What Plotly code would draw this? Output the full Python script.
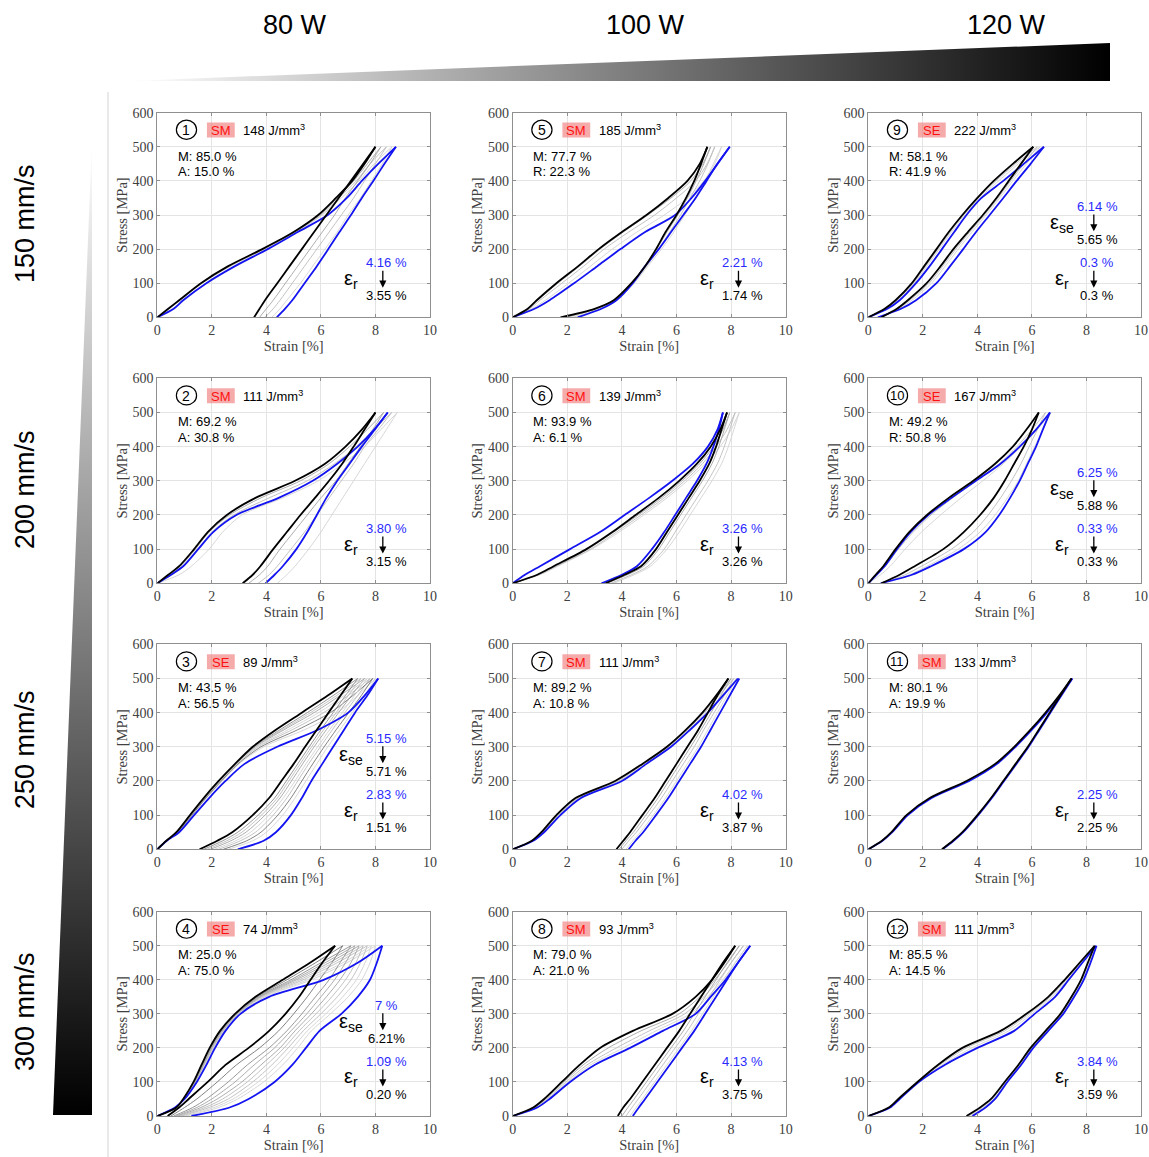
import plotly.graph_objects as go

W, H = 1149, 1157

# ---------------- data ----------------
STRESS = [0, 25, 50, 100, 150, 200, 250, 300, 350, 400, 450, 500]  # MPa levels

POWER_LABELS = ["80 W", "100 W", "120 W"]
SPEED_LABELS = ["150 mm/s", "200 mm/s", "250 mm/s", "300 mm/s"]

PANEL_TYPE = ["SM", "SM", "SE", "SE", "SM", "SM", "SM", "SM", "SE", "SE", "SM", "SM"]
ENERGY = [148, 111, 89, 74, 185, 139, 111, 93, 222, 167, 133, 111]
PHASE_1 = ["M: 85.0 %", "M: 69.2 %", "M: 43.5 %", "M: 25.0 %", "M: 77.7 %", "M: 93.9 %",
           "M: 89.2 %", "M: 79.0 %", "M: 58.1 %", "M: 49.2 %", "M: 80.1 %", "M: 85.5 %"]
PHASE_2 = ["A: 15.0 %", "A: 30.8 %", "A: 56.5 %", "A: 75.0 %", "R: 22.3 %", "A: 6.1 %",
           "A: 10.8 %", "A: 21.0 %", "R: 41.9 %", "R: 50.8 %", "A: 19.9 %", "A: 14.5 %"]
EPS_R_FIRST = ["4.16 %", "3.80 %", "2.83 %", "1.09 %", "2.21 %", "3.26 %",
               "4.02 %", "4.13 %", "0.3 %", "0.33 %", "2.25 %", "3.84 %"]
EPS_R_LAST = ["3.55 %", "3.15 %", "1.51 %", "0.20 %", "1.74 %", "3.26 %",
              "3.87 %", "3.75 %", "0.3 %", "0.33 %", "2.25 %", "3.59 %"]
EPS_SE_FIRST = {3: "5.15 %", 4: "7 %", 9: "6.14 %", 10: "6.25 %"}
EPS_SE_LAST = {3: "5.71 %", 4: "6.21%", 9: "5.65 %", 10: "5.88 %"}

# strain [%] at each STRESS level; loading and unloading branches
P1_BLUE_LOAD = [0, 0.6, 0.95, 1.8, 2.85, 4.05, 5.15, 6.25, 6.95, 7.5, 8.1, 8.75]
P1_BLUE_UNLOAD = [4.38, 4.68, 4.95, 5.4, 5.85, 6.27, 6.68, 7.1, 7.5, 7.92, 8.33, 8.75]
P1_BLACK_LOAD = [0, 0.4, 0.8, 1.6, 2.6, 3.85, 5.0, 5.9, 6.55, 7.15, 7.6, 8.0]
P1_BLACK_UNLOAD = [3.55, 3.75, 3.95, 4.4, 4.85, 5.3, 5.75, 6.2, 6.65, 7.1, 7.55, 8.0]
P1_GRAY_LOAD = [[0, 0.45, 0.85, 1.65, 2.7, 3.95, 5.1, 6.05, 6.75, 7.4, 7.95, 8.6],
                [0, 0.42, 0.83, 1.62, 2.65, 3.9, 5.05, 6.0, 6.65, 7.3, 7.8, 8.4],
                [0, 0.41, 0.81, 1.6, 2.62, 3.87, 5.02, 5.95, 6.6, 7.2, 7.7, 8.2]]
P1_GRAY_UNLOAD = [[4.2, 4.5, 4.75, 5.25, 5.7, 6.15, 6.6, 7.0, 7.45, 7.85, 8.25, 8.6],
                  [3.95, 4.25, 4.5, 4.95, 5.4, 5.85, 6.3, 6.75, 7.2, 7.6, 8.0, 8.4],
                  [3.75, 4.0, 4.25, 4.7, 5.15, 5.6, 6.05, 6.5, 6.9, 7.35, 7.8, 8.2]]

P2_BLUE_LOAD = [0, 0.5, 0.95, 1.5, 2.05, 2.9, 4.45, 5.7, 6.6, 7.35, 7.95, 8.45]
P2_BLUE_UNLOAD = [3.97, 4.3, 4.6, 5.1, 5.5, 5.85, 6.2, 6.6, 7.05, 7.5, 7.98, 8.45]
P2_BLACK_LOAD = [0, 0.4, 0.8, 1.35, 1.85, 2.55, 3.6, 5.05, 6.15, 6.9, 7.5, 8.0]
P2_BLACK_UNLOAD = [3.13, 3.5, 3.78, 4.25, 4.75, 5.25, 5.78, 6.3, 6.78, 7.2, 7.6, 8.0]
P2_GRAY_LOAD = [[0, 0.8, 1.25, 1.9, 2.4, 3.1, 4.6, 5.9, 6.8, 7.6, 8.2, 8.8],
                [0, 0.55, 0.95, 1.5, 2.0, 2.8, 4.1, 5.5, 6.5, 7.3, 7.95, 8.6],
                [0, 0.45, 0.85, 1.4, 1.9, 2.65, 3.8, 5.25, 6.3, 7.05, 7.7, 8.3]]
P2_GRAY_UNLOAD = [[4.4, 4.75, 5.05, 5.55, 6.0, 6.4, 6.8, 7.2, 7.6, 8.0, 8.4, 8.8],
                  [3.7, 4.1, 4.4, 4.9, 5.4, 5.85, 6.3, 6.75, 7.2, 7.6, 8.1, 8.6],
                  [3.35, 3.75, 4.05, 4.5, 5.0, 5.5, 6.0, 6.55, 7.0, 7.45, 7.9, 8.3]]

P3_BLUE_LOAD = [0, 0.35, 0.8, 1.35, 1.9, 2.5, 3.2, 4.4, 5.9, 7.0, 7.6, 8.1]
P3_BLUE_UNLOAD = [2.95, 3.9, 4.35, 4.9, 5.3, 5.65, 6.05, 6.45, 6.85, 7.25, 7.7, 8.1]
P3_BLACK_LOAD = [0, 0.33, 0.7, 1.2, 1.7, 2.25, 2.85, 3.5, 4.35, 5.3, 6.25, 7.15]
P3_BLACK_UNLOAD = [1.55, 2.2, 2.75, 3.5, 4.1, 4.55, 5.0, 5.42, 5.85, 6.28, 6.72, 7.15]
P3_GRAY_LOAD = [[0, 0.34, 0.75, 1.28, 1.8, 2.38, 3.0, 3.9, 5.4, 6.6, 7.35, 8.0],
                [0, 0.34, 0.73, 1.25, 1.76, 2.32, 2.92, 3.7, 4.95, 6.1, 7.0, 7.8],
                [0, 0.33, 0.72, 1.23, 1.73, 2.28, 2.88, 3.6, 4.65, 5.75, 6.7, 7.6],
                [0, 0.33, 0.71, 1.22, 1.72, 2.26, 2.86, 3.55, 4.5, 5.5, 6.45, 7.35],
                [0, 0.34, 0.74, 1.27, 1.78, 2.35, 2.96, 3.8, 5.15, 6.35, 7.17, 7.9],
                [0, 0.33, 0.72, 1.24, 1.74, 2.3, 2.9, 3.65, 4.8, 5.92, 6.85, 7.7],
                [0, 0.33, 0.71, 1.22, 1.72, 2.27, 2.87, 3.57, 4.58, 5.62, 6.58, 7.47]]
P3_GRAY_UNLOAD = [[2.6, 3.5, 4.0, 4.6, 5.05, 5.45, 5.85, 6.25, 6.7, 7.15, 7.6, 8.0],
                  [2.25, 3.05, 3.6, 4.25, 4.75, 5.15, 5.55, 5.98, 6.42, 6.88, 7.35, 7.8],
                  [1.95, 2.7, 3.25, 3.95, 4.5, 4.92, 5.33, 5.75, 6.2, 6.65, 7.12, 7.6],
                  [1.7, 2.4, 2.95, 3.7, 4.3, 4.73, 5.15, 5.57, 6.0, 6.45, 6.9, 7.35],
                  [2.42, 3.28, 3.8, 4.42, 4.9, 5.3, 5.7, 6.12, 6.56, 7.02, 7.48, 7.9],
                  [2.1, 2.88, 3.42, 4.1, 4.62, 5.05, 5.45, 5.88, 6.32, 6.78, 7.23, 7.7],
                  [1.82, 2.55, 3.1, 3.82, 4.4, 4.82, 5.24, 5.66, 6.1, 6.56, 7.0, 7.47]]

P4_BLUE_LOAD = [0, 0.65, 1.0, 1.45, 1.8, 2.12, 2.5, 3.05, 4.1, 6.1, 7.35, 8.25]
P4_BLUE_UNLOAD = [1.25, 2.65, 3.35, 4.3, 4.95, 5.45, 5.95, 6.75, 7.35, 7.8, 8.05, 8.25]
P4_BLACK_LOAD = [0, 0.7, 0.95, 1.33, 1.62, 1.92, 2.3, 2.85, 3.6, 4.6, 5.6, 6.52]
P4_BLACK_UNLOAD = [0.38, 0.8, 1.15, 1.85, 2.5, 3.35, 4.1, 4.7, 5.2, 5.62, 6.05, 6.52]
P4_GRAY_LOAD = [[0, 0.66, 0.98, 1.42, 1.75, 2.08, 2.45, 3.0, 3.95, 5.65, 6.95, 8.0],
                [0, 0.67, 0.97, 1.4, 1.72, 2.04, 2.42, 2.96, 3.85, 5.35, 6.6, 7.7],
                [0, 0.68, 0.96, 1.38, 1.69, 2.0, 2.38, 2.92, 3.78, 5.1, 6.3, 7.4],
                [0, 0.69, 0.95, 1.36, 1.66, 1.97, 2.35, 2.9, 3.7, 4.9, 6.0, 7.1],
                [0, 0.7, 0.95, 1.34, 1.64, 1.94, 2.32, 2.87, 3.65, 4.75, 5.8, 6.8],
                [0, 0.665, 0.975, 1.41, 1.73, 2.06, 2.44, 2.98, 3.9, 5.5, 6.8, 7.85],
                [0, 0.675, 0.965, 1.39, 1.7, 2.02, 2.4, 2.94, 3.8, 5.22, 6.45, 7.55],
                [0, 0.685, 0.955, 1.37, 1.68, 1.98, 2.36, 2.91, 3.74, 5.0, 6.15, 7.25]]
P4_GRAY_UNLOAD = [[1.05, 2.25, 2.95, 3.9, 4.6, 5.15, 5.65, 6.35, 7.0, 7.5, 7.8, 8.0],
                  [0.9, 1.9, 2.6, 3.5, 4.2, 4.8, 5.35, 6.0, 6.6, 7.1, 7.45, 7.7],
                  [0.75, 1.6, 2.2, 3.1, 3.8, 4.5, 5.05, 5.65, 6.2, 6.7, 7.1, 7.4],
                  [0.6, 1.3, 1.8, 2.6, 3.3, 4.1, 4.75, 5.3, 5.8, 6.3, 6.7, 7.1],
                  [0.5, 1.0, 1.45, 2.2, 2.9, 3.75, 4.45, 5.0, 5.5, 5.95, 6.4, 6.8],
                  [0.97, 2.08, 2.78, 3.7, 4.4, 4.97, 5.5, 6.18, 6.8, 7.3, 7.62, 7.85],
                  [0.82, 1.75, 2.4, 3.3, 4.0, 4.65, 5.2, 5.82, 6.4, 6.9, 7.28, 7.55],
                  [0.68, 1.45, 2.0, 2.85, 3.55, 4.3, 4.9, 5.48, 6.0, 6.5, 6.9, 7.25]]

P5_BLUE_LOAD = [0, 0.8, 1.35, 2.25, 3.1, 3.95, 4.85, 5.95, 6.55, 7.05, 7.5, 7.95]
P5_BLUE_UNLOAD = [2.38, 3.25, 3.8, 4.4, 4.85, 5.35, 5.8, 6.25, 6.7, 7.1, 7.5, 7.95]
P5_BLACK_LOAD = [0, 0.55, 0.88, 1.6, 2.4, 3.15, 4.0, 4.9, 5.7, 6.4, 6.85, 7.13]
P5_BLACK_UNLOAD = [1.75, 3.0, 3.7, 4.35, 4.85, 5.25, 5.6, 6.0, 6.35, 6.65, 6.9, 7.13]
P5_GRAY_LOAD = [[0, 0.7, 1.2, 2.05, 2.85, 3.65, 4.55, 5.55, 6.4, 7.0, 7.4, 7.65],
                [0, 0.62, 1.0, 1.8, 2.6, 3.35, 4.25, 5.2, 6.0, 6.7, 7.12, 7.4],
                [0, 0.57, 0.92, 1.65, 2.45, 3.2, 4.05, 4.95, 5.8, 6.52, 6.96, 7.25]]
P5_GRAY_UNLOAD = [[2.2, 3.2, 3.8, 4.45, 4.95, 5.45, 5.9, 6.3, 6.7, 7.05, 7.35, 7.65],
                  [2.0, 3.1, 3.75, 4.4, 4.9, 5.35, 5.75, 6.15, 6.5, 6.85, 7.15, 7.4],
                  [1.85, 3.05, 3.72, 4.37, 4.87, 5.28, 5.65, 6.05, 6.4, 6.72, 7.0, 7.25]]

P6_BLUE_LOAD = [0, 0.45, 1.0, 2.1, 3.2, 4.1, 5.0, 5.85, 6.6, 7.15, 7.5, 7.7]
P6_BLUE_UNLOAD = [3.25, 4.0, 4.55, 5.1, 5.55, 5.95, 6.35, 6.75, 7.1, 7.35, 7.55, 7.7]
P6_BLACK_LOAD = [0, 0.9, 1.5, 2.7, 3.65, 4.5, 5.35, 6.1, 6.75, 7.25, 7.6, 7.85]
P6_BLACK_UNLOAD = [3.4, 4.1, 4.7, 5.25, 5.65, 6.05, 6.45, 6.85, 7.2, 7.45, 7.65, 7.85]
P6_GRAY_LOAD = [[0, 1.0, 1.65, 2.9, 3.9, 4.8, 5.65, 6.4, 7.05, 7.6, 8.0, 8.3],
                [0, 0.95, 1.6, 2.85, 3.8, 4.7, 5.55, 6.3, 6.95, 7.45, 7.85, 8.15],
                [0, 0.92, 1.55, 2.75, 3.7, 4.6, 5.45, 6.2, 6.85, 7.35, 7.7, 7.95]]
P6_GRAY_UNLOAD = [[3.7, 4.45, 5.05, 5.65, 6.1, 6.5, 6.9, 7.3, 7.65, 7.9, 8.1, 8.3],
                  [3.6, 4.35, 4.95, 5.55, 5.95, 6.35, 6.75, 7.15, 7.5, 7.75, 7.95, 8.15],
                  [3.45, 4.2, 4.8, 5.35, 5.75, 6.15, 6.55, 6.95, 7.3, 7.55, 7.75, 7.95]]

P7_BLUE_LOAD = [0, 0.75, 1.15, 1.75, 2.5, 4.0, 4.9, 5.8, 6.5, 7.15, 7.7, 8.25]
P7_BLUE_UNLOAD = [4.25, 4.5, 4.78, 5.25, 5.7, 6.1, 6.5, 6.9, 7.25, 7.6, 7.95, 8.3]
P7_BLACK_LOAD = [0, 0.7, 1.05, 1.6, 2.3, 3.75, 4.75, 5.65, 6.35, 6.95, 7.45, 7.9]
P7_BLACK_UNLOAD = [3.8, 4.05, 4.3, 4.75, 5.2, 5.6, 6.0, 6.4, 6.8, 7.15, 7.5, 7.9]
P7_GRAY_LOAD = [[0, 0.74, 1.13, 1.72, 2.45, 3.95, 4.85, 5.75, 6.45, 7.1, 7.65, 8.2],
                [0, 0.72, 1.1, 1.68, 2.4, 3.88, 4.8, 5.7, 6.4, 7.03, 7.55, 8.1],
                [0, 0.71, 1.07, 1.64, 2.35, 3.8, 4.77, 5.67, 6.37, 6.98, 7.5, 8.0]]
P7_GRAY_UNLOAD = [[4.15, 4.4, 4.68, 5.15, 5.6, 6.0, 6.4, 6.8, 7.15, 7.5, 7.85, 8.2],
                  [4.0, 4.25, 4.53, 5.0, 5.45, 5.85, 6.25, 6.65, 7.0, 7.38, 7.75, 8.1],
                  [3.9, 4.15, 4.42, 4.88, 5.32, 5.72, 6.12, 6.52, 6.9, 7.27, 7.62, 8.0]]

P8_BLUE_LOAD = [0, 0.9, 1.35, 2.1, 3.0, 4.3, 5.5, 6.7, 7.25, 7.8, 8.25, 8.7]
P8_BLUE_UNLOAD = [4.4, 4.62, 4.85, 5.3, 5.75, 6.2, 6.65, 7.05, 7.45, 7.85, 8.25, 8.7]
P8_BLACK_LOAD = [0, 0.75, 1.15, 1.8, 2.45, 3.2, 4.4, 5.85, 6.7, 7.3, 7.75, 8.15]
P8_BLACK_UNLOAD = [3.85, 4.05, 4.3, 4.75, 5.2, 5.65, 6.1, 6.5, 6.9, 7.3, 7.7, 8.15]
P8_GRAY_LOAD = [[0, 0.87, 1.3, 2.02, 2.85, 4.05, 5.25, 6.5, 7.15, 7.7, 8.15, 8.6],
                [0, 0.83, 1.25, 1.95, 2.72, 3.8, 5.0, 6.3, 7.0, 7.55, 8.0, 8.45],
                [0, 0.79, 1.2, 1.87, 2.58, 3.5, 4.7, 6.1, 6.85, 7.4, 7.88, 8.3]]
P8_GRAY_UNLOAD = [[4.3, 4.52, 4.75, 5.2, 5.65, 6.1, 6.55, 6.95, 7.35, 7.75, 8.15, 8.6],
                  [4.15, 4.37, 4.6, 5.05, 5.5, 5.95, 6.4, 6.8, 7.2, 7.6, 8.0, 8.45],
                  [4.0, 4.22, 4.45, 4.9, 5.35, 5.8, 6.25, 6.65, 7.05, 7.45, 7.85, 8.3]]

P9_BLUE_LOAD = [0, 0.7, 1.15, 1.75, 2.25, 2.7, 3.15, 3.6, 4.15, 4.95, 5.7, 6.44]
P9_BLUE_UNLOAD = [0.35, 1.2, 1.75, 2.5, 3.0, 3.48, 3.95, 4.45, 4.95, 5.44, 5.95, 6.44]
P9_BLACK_LOAD = [0, 0.6, 1.0, 1.6, 2.05, 2.5, 2.95, 3.45, 4.0, 4.6, 5.3, 6.05]
P9_BLACK_UNLOAD = [0.48, 1.05, 1.45, 2.14, 2.65, 3.12, 3.65, 4.2, 4.7, 5.15, 5.6, 6.05]
P9_GRAY_LOAD = [[0, 0.65, 1.08, 1.68, 2.15, 2.6, 3.05, 3.52, 4.08, 4.78, 5.5, 6.3],
                [0, 0.62, 1.04, 1.64, 2.1, 2.55, 3.0, 3.48, 4.03, 4.68, 5.4, 6.2]]
P9_GRAY_UNLOAD = [[0.4, 1.12, 1.6, 2.32, 2.82, 3.3, 3.8, 4.32, 4.82, 5.3, 5.8, 6.3],
                  [0.44, 1.08, 1.52, 2.23, 2.73, 3.21, 3.72, 4.26, 4.76, 5.22, 5.7, 6.2]]

P10_BLUE_LOAD = [0, 0.3, 0.6, 1.05, 1.55, 2.2, 3.05, 3.95, 4.85, 5.55, 6.15, 6.66]
P10_BLUE_UNLOAD = [0.45, 1.6, 2.3, 3.5, 4.3, 4.8, 5.2, 5.55, 5.85, 6.15, 6.4, 6.66]
P10_BLACK_LOAD = [0, 0.27, 0.55, 1.0, 1.5, 2.15, 2.95, 3.85, 4.65, 5.3, 5.8, 6.25]
P10_BLACK_UNLOAD = [0.48, 1.15, 1.7, 2.75, 3.5, 4.1, 4.6, 5.0, 5.35, 5.7, 6.0, 6.25]
P10_GRAY_LOAD = [[0, 0.45, 0.8, 1.35, 1.95, 2.65, 3.4, 4.2, 4.95, 5.6, 6.2, 6.7],
                 [0, 0.3, 0.62, 1.1, 1.65, 2.3, 3.1, 3.95, 4.8, 5.45, 6.0, 6.5]]
P10_GRAY_UNLOAD = [[0.5, 1.5, 2.15, 3.3, 4.1, 4.65, 5.1, 5.5, 5.8, 6.1, 6.4, 6.7],
                   [0.5, 1.35, 1.95, 3.05, 3.85, 4.4, 4.85, 5.25, 5.6, 5.9, 6.2, 6.5]]

P11_BLUE_LOAD = [0, 0.52, 0.88, 1.45, 2.32, 3.7, 4.72, 5.4, 6.0, 6.55, 7.03, 7.48]
P11_BLUE_UNLOAD = [2.72, 3.13, 3.48, 4.03, 4.53, 4.98, 5.43, 5.88, 6.28, 6.68, 7.08, 7.48]
P11_BLACK_LOAD = [0, 0.5, 0.85, 1.4, 2.25, 3.6, 4.65, 5.35, 5.95, 6.5, 7.0, 7.45]
P11_BLACK_UNLOAD = [2.7, 3.1, 3.45, 4.0, 4.5, 4.95, 5.4, 5.85, 6.25, 6.65, 7.05, 7.45]
P11_GRAY_LOAD = [[0, 0.51, 0.86, 1.42, 2.28, 3.65, 4.68, 5.37, 5.97, 6.52, 7.01, 7.46]]
P11_GRAY_UNLOAD = [[2.71, 3.11, 3.46, 4.01, 4.51, 4.96, 5.41, 5.86, 6.26, 6.66, 7.06, 7.46]]

P12_BLUE_LOAD = [0, 0.8, 1.15, 1.85, 2.8, 4.0, 5.35, 6.1, 6.85, 7.35, 7.85, 8.35]
P12_BLUE_UNLOAD = [3.82, 4.3, 4.65, 5.1, 5.6, 6.05, 6.6, 7.15, 7.55, 7.9, 8.15, 8.37]
P12_BLACK_LOAD = [0, 0.75, 1.1, 1.8, 2.55, 3.45, 4.85, 5.8, 6.6, 7.2, 7.75, 8.3]
P12_BLACK_UNLOAD = [3.6, 4.1, 4.5, 5.0, 5.5, 5.95, 6.5, 7.05, 7.45, 7.8, 8.05, 8.3]
P12_GRAY_LOAD = [[0, 0.78, 1.13, 1.83, 2.7, 3.8, 5.15, 6.0, 6.75, 7.3, 7.8, 8.33],
                 [0, 0.76, 1.12, 1.82, 2.62, 3.6, 5.0, 5.9, 6.68, 7.25, 7.78, 8.32]]
P12_GRAY_UNLOAD = [[3.75, 4.22, 4.6, 5.07, 5.57, 6.02, 6.57, 7.12, 7.52, 7.87, 8.12, 8.35],
                   [3.68, 4.16, 4.55, 5.03, 5.53, 5.98, 6.53, 7.08, 7.48, 7.83, 8.08, 8.32]]

CURVES = {
    1: (P1_BLUE_LOAD, P1_BLUE_UNLOAD, P1_BLACK_LOAD, P1_BLACK_UNLOAD, P1_GRAY_LOAD, P1_GRAY_UNLOAD),
    2: (P2_BLUE_LOAD, P2_BLUE_UNLOAD, P2_BLACK_LOAD, P2_BLACK_UNLOAD, P2_GRAY_LOAD, P2_GRAY_UNLOAD),
    3: (P3_BLUE_LOAD, P3_BLUE_UNLOAD, P3_BLACK_LOAD, P3_BLACK_UNLOAD, P3_GRAY_LOAD, P3_GRAY_UNLOAD),
    4: (P4_BLUE_LOAD, P4_BLUE_UNLOAD, P4_BLACK_LOAD, P4_BLACK_UNLOAD, P4_GRAY_LOAD, P4_GRAY_UNLOAD),
    5: (P5_BLUE_LOAD, P5_BLUE_UNLOAD, P5_BLACK_LOAD, P5_BLACK_UNLOAD, P5_GRAY_LOAD, P5_GRAY_UNLOAD),
    6: (P6_BLUE_LOAD, P6_BLUE_UNLOAD, P6_BLACK_LOAD, P6_BLACK_UNLOAD, P6_GRAY_LOAD, P6_GRAY_UNLOAD),
    7: (P7_BLUE_LOAD, P7_BLUE_UNLOAD, P7_BLACK_LOAD, P7_BLACK_UNLOAD, P7_GRAY_LOAD, P7_GRAY_UNLOAD),
    8: (P8_BLUE_LOAD, P8_BLUE_UNLOAD, P8_BLACK_LOAD, P8_BLACK_UNLOAD, P8_GRAY_LOAD, P8_GRAY_UNLOAD),
    9: (P9_BLUE_LOAD, P9_BLUE_UNLOAD, P9_BLACK_LOAD, P9_BLACK_UNLOAD, P9_GRAY_LOAD, P9_GRAY_UNLOAD),
    10: (P10_BLUE_LOAD, P10_BLUE_UNLOAD, P10_BLACK_LOAD, P10_BLACK_UNLOAD, P10_GRAY_LOAD, P10_GRAY_UNLOAD),
    11: (P11_BLUE_LOAD, P11_BLUE_UNLOAD, P11_BLACK_LOAD, P11_BLACK_UNLOAD, P11_GRAY_LOAD, P11_GRAY_UNLOAD),
    12: (P12_BLUE_LOAD, P12_BLUE_UNLOAD, P12_BLACK_LOAD, P12_BLACK_UNLOAD, P12_GRAY_LOAD, P12_GRAY_UNLOAD),
}

# ---------------- styles / layout ----------------
GRAY_SHADES = ["#d2d2d2", "#bcbcbc", "#a4a4a4", "#8c8c8c", "#747474"]
BLUE = "#1414f0"
BLUE_TEXT = "#2a2aff"
SERIF = "Liberation Serif, Times New Roman, serif"
SANS = "Liberation Sans, Arial, sans-serif"
AX_TEXT = "#404040"

COL_X = [(157.3, 430.0), (512.7, 785.7), (868.3, 1141.0)]   # pixel left/right of plot areas
ROW_Y = [(112.7, 317.3), (378.3, 583.3), (644.3, 849.3), (911.7, 1116.0)]  # pixel top/bottom

fig = go.Figure()
shapes = []
annotations = []


def ax_suffix(k):
    return "" if k == 1 else str(k)


for n in range(1, 13):
    col = (n - 1) // 4
    row = (n - 1) % 4
    sfx = ax_suffix(n)
    xr, yr = "x" + sfx, "y" + sfx
    xl, xrgt = COL_X[col]
    yt, yb = ROW_Y[row]
    fig.layout["xaxis" + sfx] = dict(
        domain=[xl / W, xrgt / W], anchor=yr, range=[0, 10], tick0=0, dtick=2,
        showgrid=True, gridcolor="#e4e4e4", gridwidth=1, zeroline=False,
        showline=True, linecolor="#8f8f8f", linewidth=1, mirror="ticks",
        ticks="inside", ticklen=3, tickcolor="#8f8f8f",
        tickfont=dict(family=SERIF, size=14, color=AX_TEXT),
        title=dict(text="Strain [%]", font=dict(family=SERIF, size=14.5, color=AX_TEXT), standoff=2),
        fixedrange=True)
    fig.layout["yaxis" + sfx] = dict(
        domain=[1 - yb / H, 1 - yt / H], anchor=xr, range=[0, 600], tick0=0, dtick=100,
        showgrid=True, gridcolor="#e4e4e4", gridwidth=1, zeroline=False,
        showline=True, linecolor="#8f8f8f", linewidth=1, mirror="ticks",
        ticks="inside", ticklen=3, tickcolor="#8f8f8f",
        tickfont=dict(family=SERIF, size=14, color=AX_TEXT),
        title=dict(text="Stress [MPa]", font=dict(family=SERIF, size=14.5, color=AX_TEXT), standoff=1),
        fixedrange=True)

    bl, bu, kl, ku, gl, gu = CURVES[n]
    # gray intermediate cycles
    for i, (g_load, g_unload) in enumerate(zip(gl, gu)):
        c = GRAY_SHADES[i % len(GRAY_SHADES)]
        for xs in (g_load, g_unload):
            fig.add_trace(go.Scatter(x=xs, y=STRESS, mode="lines", xaxis=xr, yaxis=yr,
                                     line=dict(color=c, width=0.9, shape="spline", smoothing=0.8),
                                     hoverinfo="skip", showlegend=False))
    for xs, c in ((bl, BLUE), (bu, BLUE), (kl, "black"), (ku, "black")):
        fig.add_trace(go.Scatter(x=xs, y=STRESS, mode="lines", xaxis=xr, yaxis=yr,
                                 line=dict(color=c, width=1.8, shape="spline", smoothing=0.8),
                                 hoverinfo="skip", showlegend=False))

    # circled number
    shapes.append(dict(type="circle", xref=xr, yref=yr, x0=0.70, x1=1.44, y0=522, y1=578,
                       line=dict(color="black", width=1.2)))
    annotations.append(dict(x=1.07, y=549, xref=xr, yref=yr, text=str(n), showarrow=False,
                            font=dict(family=SANS, size=14 if n < 10 else 13, color="black")))
    # SM / SE tag
    shapes.append(dict(type="rect", xref=xr, yref=yr, x0=1.82, x1=2.84, y0=527, y1=571,
                       fillcolor="rgba(240,120,120,0.62)", line=dict(width=0)))
    annotations.append(dict(x=2.33, y=548, xref=xr, yref=yr, text=PANEL_TYPE[n - 1], showarrow=False,
                            font=dict(family=SANS, size=13, color="#ff1010")))
    annotations.append(dict(x=3.08, y=548, xref=xr, yref=yr, xanchor="left", showarrow=False,
                            text=f"{ENERGY[n - 1]} J/mm<sup>3</sup>",
                            font=dict(family=SANS, size=13, color="black")))
    annotations.append(dict(x=0.68, y=473, xref=xr, yref=yr, xanchor="left", showarrow=False,
                            text=PHASE_1[n - 1], font=dict(family=SANS, size=13, color="black")))
    annotations.append(dict(x=0.68, y=427, xref=xr, yref=yr, xanchor="left", showarrow=False,
                            text=PHASE_2[n - 1], font=dict(family=SANS, size=13, color="black")))

    # residual / superelastic strain change
    def eps_block(label, first, last, y_first, y_arrow_top, y_arrow_bot, y_last, y_sym, xr=xr, yr=yr):
        annotations.append(dict(x=8.4, y=y_first, xref=xr, yref=yr, text=first, showarrow=False,
                                font=dict(family=SANS, size=13, color=BLUE_TEXT)))
        annotations.append(dict(x=8.4, y=y_last, xref=xr, yref=yr, text=last, showarrow=False,
                                font=dict(family=SANS, size=13, color="black")))
        annotations.append(dict(x=8.27, y=y_arrow_bot, ax=8.27, ay=y_arrow_top, xref=xr, yref=yr,
                                axref=xr, ayref=yr, text="", showarrow=True, arrowhead=2,
                                arrowsize=1.1, arrowwidth=1.3, arrowcolor="black"))
        annotations.append(dict(x=7.12, y=y_sym, xref=xr, yref=yr, showarrow=False,
                                text=f"ε<sub>{label}</sub>",
                                font=dict(family=SANS, size=20, color="black")))

    eps_block("r", EPS_R_FIRST[n - 1], EPS_R_LAST[n - 1], 160, 141, 87, 64, 112)
    if n in EPS_SE_FIRST:
        eps_block("se", EPS_SE_FIRST[n], EPS_SE_LAST[n], 324, 306, 252, 227, 276)

# ---------------- decorations (pixel overlay) ----------------
fig.layout["xaxis13"] = dict(domain=[0, 1], range=[0, W], visible=False, anchor="y13", fixedrange=True)
fig.layout["yaxis13"] = dict(domain=[0, 1], range=[H, 0], visible=False, anchor="x13", fixedrange=True)

fig.add_trace(go.Scatter(x=[130, 1110, 1110, 130], y=[81, 43, 81, 81], mode="lines",
                         xaxis="x13", yaxis="y13", fill="toself",
                         fillgradient=dict(type="horizontal", colorscale=[[0, "white"], [1, "black"]],
                                           start=130, stop=1110),
                         line=dict(width=0, color="rgba(0,0,0,0)"), hoverinfo="skip", showlegend=False))
fig.add_trace(go.Scatter(x=[92, 92, 53, 92], y=[140, 1115, 1115, 140], mode="lines",
                         xaxis="x13", yaxis="y13", fill="toself",
                         fillgradient=dict(type="vertical", colorscale=[[0, "white"], [1, "black"]],
                                           start=140, stop=1115),
                         line=dict(width=0, color="rgba(0,0,0,0)"), hoverinfo="skip", showlegend=False))

shapes.append(dict(type="line", xref="paper", yref="paper", x0=108 / W, x1=108 / W,
                   y0=0, y1=1 - 92 / H, line=dict(color="#d4d4d4", width=1)))

for lbl, px in zip(POWER_LABELS, [295, 645, 1006]):
    annotations.append(dict(x=px / W, y=1 - 25 / H, xref="paper", yref="paper", text=lbl,
                            xanchor="center", yanchor="middle",
                            showarrow=False, font=dict(family=SANS, size=27, color="black")))
for lbl, py in zip(SPEED_LABELS, [224, 490, 750, 1012]):
    annotations.append(dict(x=25 / W, y=1 - py / H, xref="paper", yref="paper", text=lbl,
                            xanchor="center", yanchor="middle",
                            showarrow=False, textangle=-90,
                            font=dict(family=SANS, size=27, color="black")))

fig.update_layout(width=W, height=H, margin=dict(l=0, r=0, t=0, b=0),
                  paper_bgcolor="white", plot_bgcolor="rgba(0,0,0,0)",
                  template="none", showlegend=False,
                  shapes=shapes, annotations=annotations)

fig.write_html("out.html", config={"displayModeBar": False},
               post_script="document.body.style.margin='0px';document.body.style.overflow='hidden';")
